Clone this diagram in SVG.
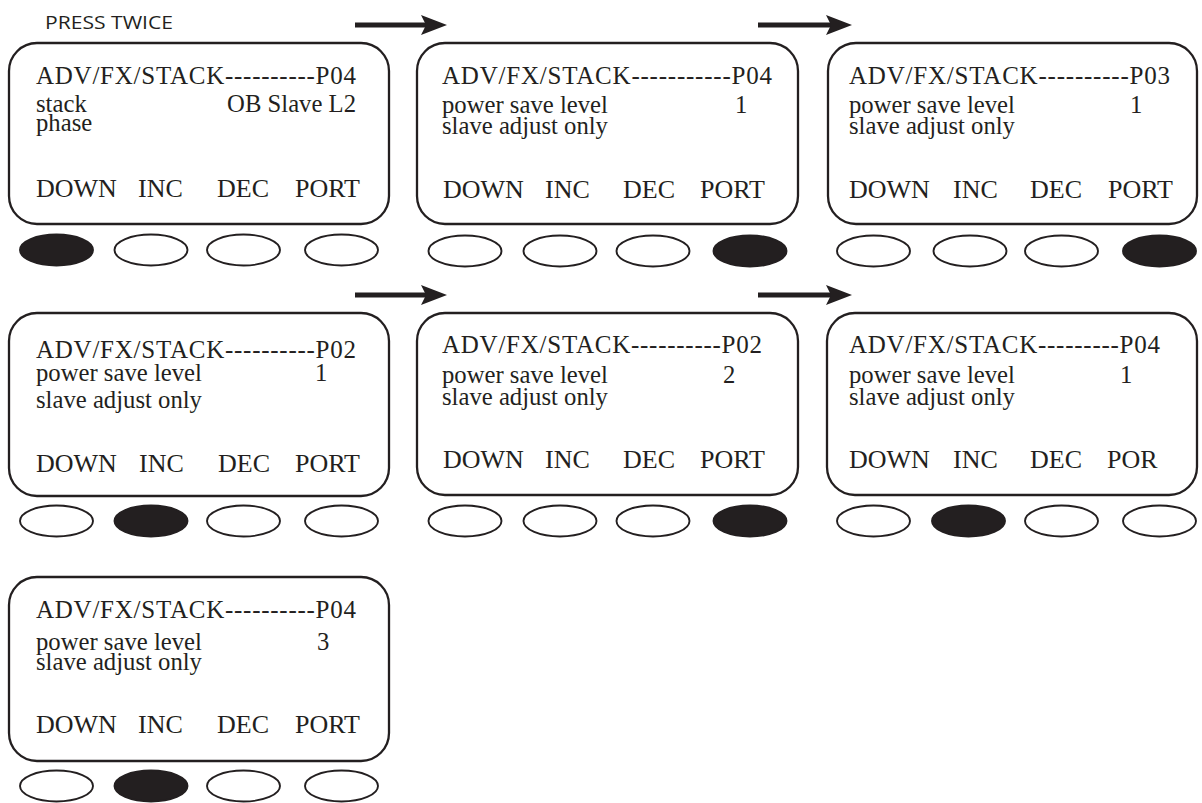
<svg xmlns="http://www.w3.org/2000/svg" width="1202" height="803" viewBox="0 0 1202 803">
<style>
.panel{fill:#fff;stroke:#231f20;stroke-width:2.3}
.btn{fill:#fff;stroke:#231f20;stroke-width:1.9}
.on{fill:#231f20;stroke:#231f20;stroke-width:1.9}
.t{font-family:"Liberation Serif","Times New Roman",serif;font-size:25px;fill:#231f20}
.s{font-family:"Liberation Serif","Times New Roman",serif;font-size:24.7px;fill:#231f20}
.b{font-family:"Liberation Serif","Times New Roman",serif;font-size:26px;fill:#231f20}
.lbl{font-family:"Open Sans","Liberation Sans",sans-serif;font-size:18px;font-weight:400;fill:#231f20}
.ar{stroke:#231f20;stroke-width:5;fill:none}
.ah{fill:#231f20}
</style>
<rect width="1202" height="803" fill="#fff"/>
<text class="lbl" x="45" y="29" textLength="128" lengthAdjust="spacingAndGlyphs">PRESS TWICE</text>

<g id="connectors">
<line class="ar" x1="355" y1="25" x2="428" y2="25"/><path class="ah" d="M447,25 L421,15 L426,25 L421,35 Z"/>
<line class="ar" x1="758" y1="25" x2="832" y2="25"/><path class="ah" d="M852,25 L826,15 L831,25 L826,35 Z"/>
<line class="ar" x1="355" y1="295" x2="428" y2="295"/><path class="ah" d="M447,295 L421,285 L426,295 L421,305 Z"/>
<line class="ar" x1="758" y1="295" x2="832" y2="295"/><path class="ah" d="M852,295 L826,285 L831,295 L826,305 Z"/>
</g>

<g id="panel1">
<rect class="panel" x="9" y="43" width="380" height="181" rx="28"/>
<text class="t" x="36" y="84" textLength="320" lengthAdjust="spacing">ADV/FX/STACK----------P04</text>
<text class="s" x="36" y="112">stack</text>
<text class="s" x="356" y="112" text-anchor="end">OB Slave L2</text>
<text class="s" x="36" y="131">phase</text>
<text class="b" x="36" y="197">DOWN</text><text class="b" x="138" y="197">INC</text><text class="b" x="217" y="197">DEC</text><text class="b" x="295" y="197">PORT</text>
<ellipse class="on" cx="56.5" cy="250" rx="36.5" ry="15.5"/>
<ellipse class="btn" cx="151" cy="250" rx="36.5" ry="15.5"/>
<ellipse class="btn" cx="243.5" cy="250" rx="36.5" ry="15.5"/>
<ellipse class="btn" cx="341.5" cy="250" rx="36.5" ry="15.5"/>
</g>

<g id="panel2">
<rect class="panel" x="417" y="43" width="381" height="181" rx="28"/>
<text class="t" x="442" y="84" textLength="330" lengthAdjust="spacing">ADV/FX/STACK-----------P04</text>
<text class="s" x="442" y="113">power save level</text>
<text class="s" x="735" y="113">1</text>
<text class="s" x="442" y="134">slave adjust only</text>
<text class="b" x="443" y="198">DOWN</text><text class="b" x="545" y="198">INC</text><text class="b" x="623" y="198">DEC</text><text class="b" x="700" y="198">PORT</text>
<ellipse class="btn" cx="465" cy="251" rx="36.5" ry="15.5"/>
<ellipse class="btn" cx="560" cy="251" rx="36.5" ry="15.5"/>
<ellipse class="btn" cx="653" cy="251" rx="36.5" ry="15.5"/>
<ellipse class="on" cx="750" cy="251" rx="36.5" ry="15.5"/>
</g>

<g id="panel3">
<rect class="panel" x="828" y="43" width="369" height="181" rx="28"/>
<text class="t" x="849" y="84" textLength="321" lengthAdjust="spacing">ADV/FX/STACK----------P03</text>
<text class="s" x="849" y="113">power save level</text>
<text class="s" x="1130" y="113">1</text>
<text class="s" x="849" y="134">slave adjust only</text>
<text class="b" x="849" y="198">DOWN</text><text class="b" x="953" y="198">INC</text><text class="b" x="1030" y="198">DEC</text><text class="b" x="1108" y="198">PORT</text>
<ellipse class="btn" cx="873.5" cy="251" rx="36.5" ry="15.5"/>
<ellipse class="btn" cx="970" cy="251" rx="36.5" ry="15.5"/>
<ellipse class="btn" cx="1061.5" cy="251" rx="36.5" ry="15.5"/>
<ellipse class="on" cx="1159.5" cy="251" rx="36.5" ry="15.5"/>
</g>

<g id="panel4">
<rect class="panel" x="9" y="313" width="380" height="183" rx="28"/>
<text class="t" x="36" y="358" textLength="320" lengthAdjust="spacing">ADV/FX/STACK----------P02</text>
<text class="s" x="36" y="381">power save level</text>
<text class="s" x="315" y="381">1</text>
<text class="s" x="36" y="408">slave adjust only</text>
<text class="b" x="36" y="472">DOWN</text><text class="b" x="139" y="472">INC</text><text class="b" x="218" y="472">DEC</text><text class="b" x="295" y="472">PORT</text>
<ellipse class="btn" cx="56.5" cy="521" rx="36.5" ry="15.5"/>
<ellipse class="on" cx="151" cy="521" rx="36.5" ry="15.5"/>
<ellipse class="btn" cx="243.5" cy="521" rx="36.5" ry="15.5"/>
<ellipse class="btn" cx="341.5" cy="521" rx="36.5" ry="15.5"/>
</g>

<g id="panel5">
<rect class="panel" x="417" y="313" width="381" height="182" rx="28"/>
<text class="t" x="442" y="353" textLength="320" lengthAdjust="spacing">ADV/FX/STACK----------P02</text>
<text class="s" x="442" y="383">power save level</text>
<text class="s" x="723" y="383">2</text>
<text class="s" x="442" y="405">slave adjust only</text>
<text class="b" x="443" y="468">DOWN</text><text class="b" x="545" y="468">INC</text><text class="b" x="623" y="468">DEC</text><text class="b" x="700" y="468">PORT</text>
<ellipse class="btn" cx="465" cy="521" rx="36.5" ry="15.5"/>
<ellipse class="btn" cx="560" cy="521" rx="36.5" ry="15.5"/>
<ellipse class="btn" cx="653" cy="521" rx="36.5" ry="15.5"/>
<ellipse class="on" cx="750" cy="521" rx="36.5" ry="15.5"/>
</g>

<g id="panel6">
<rect class="panel" x="827" y="313" width="370" height="182" rx="28"/>
<text class="t" x="849" y="353" textLength="311" lengthAdjust="spacing">ADV/FX/STACK---------P04</text>
<text class="s" x="849" y="383">power save level</text>
<text class="s" x="1120" y="383">1</text>
<text class="s" x="849" y="405">slave adjust only</text>
<text class="b" x="849" y="468">DOWN</text><text class="b" x="953" y="468">INC</text><text class="b" x="1030" y="468">DEC</text><text class="b" x="1107" y="468">POR</text>
<ellipse class="btn" cx="873.5" cy="521" rx="36.5" ry="15.5"/>
<ellipse class="on" cx="968.5" cy="521" rx="36.5" ry="15.5"/>
<ellipse class="btn" cx="1061.5" cy="521" rx="36.5" ry="15.5"/>
<ellipse class="btn" cx="1159.5" cy="521" rx="36.5" ry="15.5"/>
</g>

<g id="panel7">
<rect class="panel" x="9" y="577" width="380" height="184" rx="28"/>
<text class="t" x="36" y="618" textLength="320" lengthAdjust="spacing">ADV/FX/STACK----------P04</text>
<text class="s" x="36" y="650">power save level</text>
<text class="s" x="317" y="650">3</text>
<text class="s" x="36" y="670">slave adjust only</text>
<text class="b" x="36" y="733">DOWN</text><text class="b" x="138" y="733">INC</text><text class="b" x="217" y="733">DEC</text><text class="b" x="295" y="733">PORT</text>
<ellipse class="btn" cx="56.5" cy="786" rx="36.5" ry="15.5"/>
<ellipse class="on" cx="151" cy="786" rx="36.5" ry="15.5"/>
<ellipse class="btn" cx="243.5" cy="786" rx="36.5" ry="15.5"/>
<ellipse class="btn" cx="341.5" cy="786" rx="36.5" ry="15.5"/>
</g>
</svg>
